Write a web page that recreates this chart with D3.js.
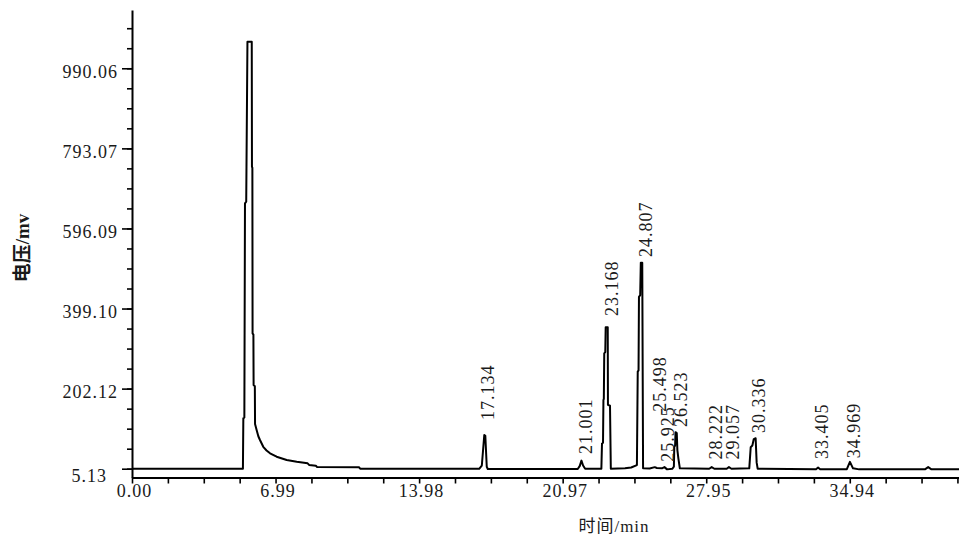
<!DOCTYPE html>
<html><head><meta charset="utf-8">
<script src="https://cdn.jsdelivr.net/npm/d3@7"></script>
<style>body{margin:0;background:#fff} svg{display:block}</style>
</head><body>
<svg id="c" width="959" height="537"></svg>
<script>
// ---- data ----
const timeMin = [0,5.40,5.42,5.47,5.50,5.56,5.62,5.83,5.84,5.86,5.87,5.91,5.92,5.98,5.99,6.07,6.15,6.23,6.39,6.55,6.72,7.04,7.53,8.02,8.55,8.62,8.95,9.00,11.05,11.12,
  16.90,17.03,17.15,17.20,17.27,17.32,21.70,21.80,21.88,21.96,22.06,22.85,22.88,22.93,22.95,22.97,22.99,23.04,23.06,23.16,23.17,23.27,23.31,
  24.00,24.30,24.58,24.62,24.66,24.68,24.74,24.77,24.84,24.88,25.20,25.45,25.55,25.80,25.92,26.05,26.30,26.38,26.40,26.44,26.46,26.52,26.55,26.60,26.67,
  28.10,28.22,28.35,28.95,29.06,29.18,30.05,30.12,30.20,30.27,30.36,30.41,30.46,33.30,33.40,33.50,34.80,34.95,35.10,35.40,38.60,38.76,38.92,40.26];
const voltageMv = [5.3,5.3,129,131,658,662,1055,1055,748,745,338,335,211,208,115,100,85,75.7,59,50,43,34.6,26.5,22.3,18.4,14.5,12.5,9.5,8.6,4.8,
  4.8,13,88,86,10,4.5,4.5,12,25,13,5,5,67,69,174,177,289,292,353,353,162,160,5,
  6,8,14,244,247,428,432,512,512,6,5.5,9,7,6,9,3.5,5,10,59,62,95,93,51,30,6,
  5,9,5,5,9,5,6,58,62,78,80,20,5,4,8,4,4,22,6,3.5,3.5,9,3.5,3.5];

const peakTimes  = [17.134,21.9,23.168,24.807,25.498,25.925,26.523,28.222,29.057,30.336,33.405,34.969];
const peakLabels = ["17.134","21.001","23.168","24.807","25.498","25.925","26.523","28.222","29.057","30.336","33.405","34.969"];
const labelMv    = [125,41,381,526,145,22,108,28,28,93,29,31];

const xTickValues = [0,6.9885,13.977,20.9655,27.954,34.9425];
const xTickLabels = ["0.00","6.99","13.98","20.97","27.95","34.94"];
const yTickValues = [5.13,202.12,399.10,596.09,793.07,990.06];
const yTickLabels = ["5.13","202.12","399.10","596.09","793.07","990.06"];

const xTitle = "时间/min";
const yTitle = "电压/mv";

// ---- drawing ----
const svg = d3.select("#c");
const x = d3.scaleLinear().domain([0, 40.26]).range([132, 959]);
const y = d3.scaleLinear().domain([-16.5, 1133.4]).range([477.5, 10]);

const serif = "'Liberation Serif','Times New Roman',serif";

// minor ticks (subdivide majors by 4)
const xStep = xTickValues[1]/4;
const xMinor = d3.range(0, 24).map(i => i*xStep).filter(v => v <= x.domain()[1]);
const yStep = (yTickValues[1]-yTickValues[0])/4;
const yMinor = d3.range(0, 24).map(i => yTickValues[0] + i*yStep).filter(v => v <= y.domain()[1]);

// x axis
const gx = svg.append("g").attr("transform", `translate(0,${y.range()[0]})`);
gx.call(d3.axisBottom(x).tickValues(xMinor).tickSize(6).tickSizeOuter(0).tickFormat(""));
gx.select(".domain").attr("stroke","#000").attr("stroke-width",2);
gx.selectAll(".tick line").attr("stroke","#000").attr("stroke-width",1.6);
const gxl = svg.append("g").attr("transform", `translate(0,${y.range()[0]})`);
gxl.call(d3.axisBottom(x).tickValues(xTickValues).tickSize(0).tickPadding(7).tickFormat((d,i)=>xTickLabels[i]));
gxl.select(".domain").remove();
gxl.selectAll("text").attr("font-family",serif).attr("font-size",18).attr("fill","#1a1a1a")
  .attr("letter-spacing","1px").attr("x",2);

// y axis
const gy = svg.append("g").attr("transform", `translate(${x.range()[0]},0)`);
gy.call(d3.axisLeft(y).tickValues(yMinor).tickSize(5).tickSizeOuter(0).tickFormat(""));
gy.select(".domain").attr("stroke","#000").attr("stroke-width",2);
gy.selectAll(".tick line").attr("stroke","#000").attr("stroke-width",1.6);
const gyl = svg.append("g").attr("transform", `translate(${x.range()[0]},0)`);
gyl.call(d3.axisLeft(y).tickValues(yTickValues).tickSize(10).tickPadding(4).tickFormat((d,i)=>yTickLabels[i]));
gyl.select(".domain").remove();
gyl.selectAll(".tick line").attr("stroke","#000").attr("stroke-width",1.6);
gyl.selectAll("text").attr("font-family",serif).attr("font-size",18).attr("fill","#1a1a1a")
  .attr("letter-spacing","1px").attr("y",3);
gyl.selectAll("text").filter((d,i)=>i===0).attr("x",-25).attr("y",7);

// signal
const line = d3.line().x((d,i)=>x(timeMin[i])).y((d,i)=>y(voltageMv[i]));
svg.append("path").datum(voltageMv).attr("d",line).attr("fill","none")
  .attr("stroke","#000").attr("stroke-width",2).attr("stroke-linejoin","round");

// peak labels
svg.append("g").selectAll("text").data(peakLabels).join("text")
  .attr("transform",(d,i)=>`translate(${x(peakTimes[i])+4},${y(labelMv[i])}) rotate(-90)`)
  .attr("dy","0.33em").attr("text-anchor","start")
  .attr("font-family",serif).attr("font-size",18).attr("letter-spacing","1px").attr("fill","#1a1a1a")
  .text(d=>d);

// titles
svg.append("text").attr("x",614).attr("y",532).attr("text-anchor","middle")
  .attr("font-family",serif+",'Noto Sans CJK SC'").attr("font-size",17).attr("letter-spacing","1px").attr("fill","#1a1a1a")
  .text(xTitle);
svg.append("text").attr("transform","translate(22,248) rotate(-90)").attr("dy","0.35em").attr("text-anchor","middle")
  .attr("font-family",serif+",'Noto Sans CJK SC'").attr("font-weight","bold").attr("font-size",19).attr("fill","#1a1a1a")
  .text(yTitle);
</script>
</body></html>
